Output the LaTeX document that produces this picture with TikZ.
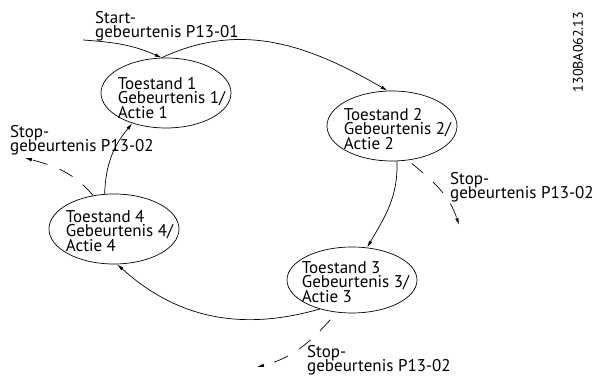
\documentclass[tikz,border=0pt]{standalone}
\usepackage{fontspec}
\setmainfont{PT Sans}
\usepackage{tikz}
\usetikzlibrary{arrows.meta,positioning,shapes.geometric}
\newcommand\tekstfont{\fontsize{17}{14.5}\selectfont\lineskiplimit=-20pt\relax}

\begin{document}
\begin{tikzpicture}[
    x=1pt, y=1pt,
    font=\tekstfont,
    state/.style={draw, ellipse, line width=0.7pt, inner sep=0pt,
                  minimum width=130pt, minimum height=70pt},
    tekst/.style={align=left, inner sep=0pt},
    flow/.style={-{Latex[length=7pt,width=3.5pt]}, line width=0.7pt},
    stop/.style={flow, dash pattern=on 15pt off 13pt}
  ]
    \useasboundingbox (0,0) rectangle (597,379);
    % toestanden
    \node[state] (s1) at (166,286) {};
    \node[state] (s2) at (392,253) {};
    \node[state, minimum height=66pt] (s3) at (352,99) {};
    \node[state] (s4) at (114,150) {};
    \node[tekst, right=17pt of s1.west, yshift=-5pt] (t1) {Toestand 1\\Gebeurtenis 1/\\Actie 1};
    \node[tekst, right=17pt of s2.west, yshift=-3pt] (t2) {Toestand 2\\Gebeurtenis 2/\\Actie 2};
    \node[tekst, right=15pt of s3.west, yshift=-2pt] (t3) {Toestand 3\\Gebeurtenis 3/\\Actie 3};
    \node[tekst, right=17pt of s4.west, yshift=-2pt] (t4) {Toestand 4\\Gebeurtenis 4/\\Actie 4};
    % losse eindpunten
    \coordinate (start) at (83,339);
    \coordinate (stop2) at (459,154);
    \coordinate (stop3) at (257,12);
    \coordinate (stop4) at (25,221);
    % labels
    \node[tekst, anchor=north west] (startlbl) at (95,368) {Start-\\gebeurtenis P13-01};
    \node[tekst, anchor=north west] (stoplbl4) at (10,254) {Stop-\\gebeurtenis P13-02};
    \node[tekst, anchor=north west] (stoplbl2) at (450,207) {Stop-\\gebeurtenis P13-02};
    \node[tekst, anchor=north west] (stoplbl3) at (307,34) {Stop-\\gebeurtenis P13-02};
    \node[rotate=90, inner sep=0pt, font=\fontsize{14}{16}\selectfont] (code) at (578,327) {130BA062.13};
    % overgangen
    \draw[flow] (start) to[out=-4, in=156] (s1.97);
    \draw[flow] (s1.97) to[out=25, in=150] (s2.97);
    \draw[flow] (s2.-82) to[out=-88, in=60] (s3.65);
    \draw[flow] (s3.222) to[out=196, in=-42] (s4.-85);
    \draw[flow] (s4.105) to[out=88, in=-130] (s1.222);
    % stop
    \draw[stop] (s4.122) to[out=130, in=-15] (stop4);
    \draw[stop, shorten <=5pt] (s2.-65) to[out=-40, in=108] (stop2);
    \draw[stop, shorten <=10pt] (s3.245) to[out=228, in=14] (stop3);
  \end{tikzpicture}
\end{document}
